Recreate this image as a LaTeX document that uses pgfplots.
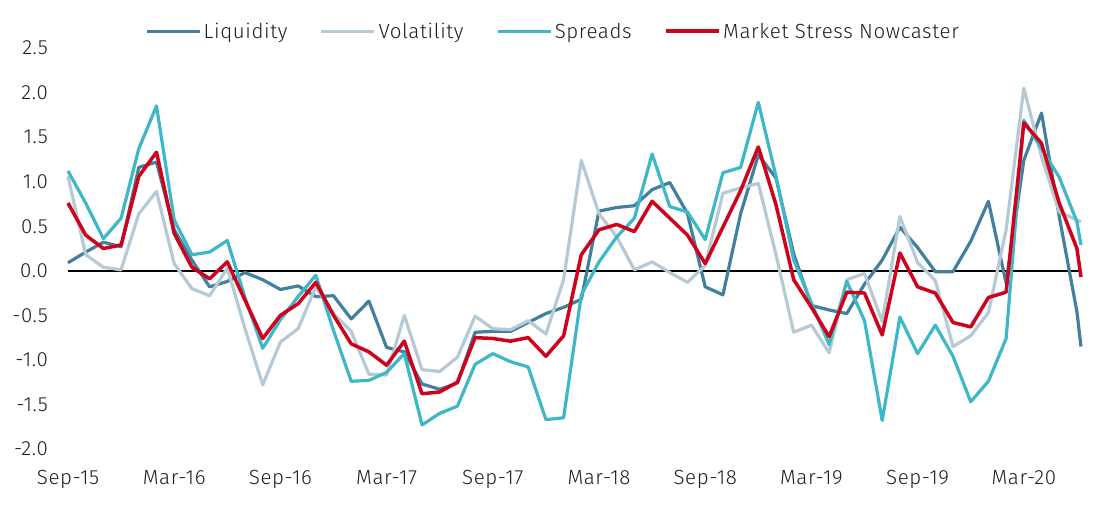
\documentclass[border=0pt]{standalone}
\usepackage{fontspec}
\setmainfont{Fira Sans}[UprightFont={* Light}, LetterSpace=3]
\usepackage{pgfplots}
\usepackage{pgfplotstable}
\pgfplotsset{compat=1.18}
\definecolor{liqc}{RGB}{66,128,158}
\definecolor{volc}{RGB}{182,202,214}
\definecolor{sprc}{RGB}{62,183,199}
\definecolor{msnc}{RGB}{208,2,27}
\definecolor{txtc}{RGB}{30,30,30}
\pgfplotstableread{
x liq vol spr msn
0 0.09 1.06 1.12 0.76
1 0.21 0.18 0.76 0.40
2 0.32 0.04 0.36 0.25
3 0.27 0.01 0.59 0.29
4 1.16 0.64 1.37 1.06
5 1.22 0.89 1.85 1.33
6 0.46 0.08 0.57 0.42
7 0.12 -0.20 0.18 0.04
8 -0.18 -0.28 0.21 -0.09
9 -0.12 0.03 0.34 0.10
10 -0.02 -0.65 -0.30 -0.33
11 -0.10 -1.28 -0.87 -0.76
12 -0.21 -0.80 -0.55 -0.50
13 -0.17 -0.65 -0.29 -0.37
14 -0.29 -0.18 -0.05 -0.13
15 -0.28 -0.48 -0.67 -0.50
16 -0.54 -0.68 -1.24 -0.82
17 -0.34 -1.16 -1.23 -0.91
18 -0.86 -1.17 -1.14 -1.06
19 -0.91 -0.50 -0.93 -0.79
20 -1.27 -1.11 -1.73 -1.38
21 -1.33 -1.13 -1.60 -1.36
22 -1.26 -0.97 -1.52 -1.25
23 -0.69 -0.51 -1.05 -0.75
24 -0.68 -0.65 -0.93 -0.76
25 -0.68 -0.66 -1.02 -0.79
26 -0.58 -0.56 -1.08 -0.75
27 -0.48 -0.71 -1.67 -0.96
28 -0.41 -0.10 -1.65 -0.73
29 -0.32 1.24 -0.27 0.18
30 0.67 0.64 0.10 0.46
31 0.71 0.38 0.38 0.52
32 0.73 0.01 0.59 0.44
33 0.91 0.10 1.31 0.78
34 0.99 -0.02 0.72 0.59
35 0.64 -0.13 0.66 0.40
36 -0.18 0.06 0.35 0.08
37 -0.27 0.87 1.10 0.49
38 0.64 0.93 1.16 0.90
39 1.30 0.98 1.89 1.39
40 1.04 0.18 1.06 0.74
41 0.19 -0.69 0.12 -0.10
42 -0.39 -0.61 -0.36 -0.41
43 -0.44 -0.92 -0.83 -0.74
44 -0.48 -0.10 -0.12 -0.24
45 -0.15 -0.03 -0.56 -0.25
46 0.12 -0.57 -1.68 -0.72
47 0.49 0.61 -0.52 0.20
48 0.26 0.09 -0.93 -0.18
49 -0.01 -0.11 -0.61 -0.25
50 -0.01 -0.85 -0.96 -0.58
51 0.33 -0.73 -1.47 -0.63
52 0.78 -0.47 -1.24 -0.30
53 -0.14 0.46 -0.76 -0.24
54 1.24 2.05 1.69 1.66
55 1.77 1.28 1.37 1.43
56 0.61 0.66 1.05 0.76
57 -0.46 0.57 0.55 0.25
57.23 -0.85 0.55 0.29 -0.07
}\datatable
\begin{document}
\begin{tikzpicture}
\begin{axis}[
  scale only axis,
  width=1013pt, height=401pt,
  xmin=0, xmax=57.23,
  ymin=-2, ymax=2.5,
  axis line style={draw=none},
  major tick length=0pt,
  xtick={0,6,12,18,24,30,36,42,48,54},
  xticklabels={Sep-15,Mar-16,Sep-16,Mar-17,Sep-17,Mar-18,Sep-18,Mar-19,Sep-19,Mar-20},
  ytick={-2,-1.5,-1,-0.5,0,0.5,1,1.5,2,2.5},
  yticklabels={-2.0,-1.5,-1.0,-0.5,0.0,0.5,1.0,1.5,2.0,2.5},
  every tick label/.append style={font=\fontsize{20.5}{24}\selectfont, text=txtc, inner sep=0pt},
  xticklabel style={anchor=north, yshift=-21pt},
  yticklabel style={anchor=east, xshift=-20pt},
  clip=false,
  legend columns=4,
  legend style={at={(0.479,1.042)}, anchor=center, draw=none, fill=none,
    font=\fontsize{20.5}{24}\selectfont, text=txtc,
    /tikz/every even column/.append style={column sep=30pt},
    nodes={inner sep=2.5pt}},
  legend image code/.code={\draw[#1] (0pt,0pt) -- (53pt,0pt);},
]
\addplot[black, line width=2pt, forget plot] coordinates {(0,0) (57.23,0)};
\addplot[liqc, line width=3.2pt, line join=round] table[x=x,y=liq]{\datatable};
\addlegendentry{Liquidity}
\addplot[volc, line width=3.2pt, line join=round] table[x=x,y=vol]{\datatable};
\addlegendentry{Volatility}
\addplot[sprc, line width=3.2pt, line join=round] table[x=x,y=spr]{\datatable};
\addlegendentry{Spreads}
\addplot[msnc, line width=3.5pt, line join=round] table[x=x,y=msn]{\datatable};
\addlegendentry{Market Stress Nowcaster}
\end{axis}
\pgfresetboundingbox
\path[use as bounding box] (current axis.south west) ++(-68pt,-63pt) rectangle ++(1100pt,512pt);
\end{tikzpicture}
\end{document}
